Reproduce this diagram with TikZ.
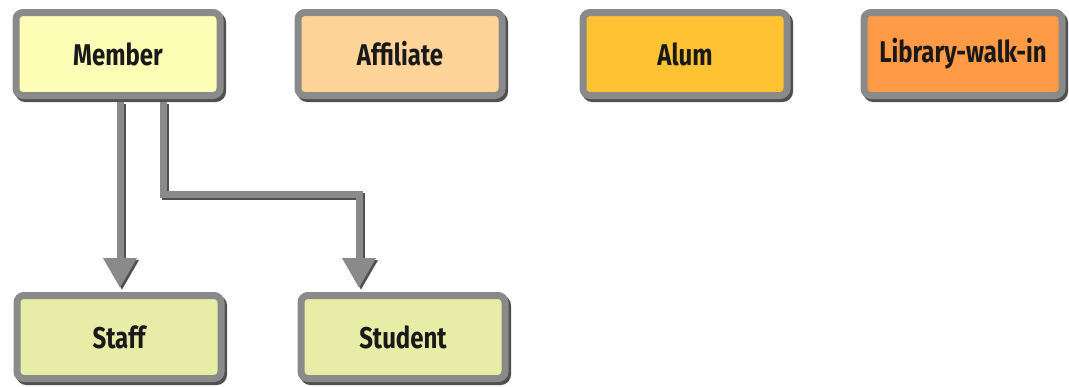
\documentclass[tikz,border=0pt]{standalone}
\usepackage{fontspec}
\setmainfont{Fira Sans}[FakeStretch=0.8]
\usetikzlibrary{arrows.meta,shadows,calc}
\definecolor{bordergray}{HTML}{8A8A8A}
\definecolor{shadowgray}{HTML}{505050}
\definecolor{cmember}{HTML}{FDFDB6}
\definecolor{caffil}{HTML}{FED499}
\definecolor{calum}{HTML}{FEC232}
\definecolor{clib}{HTML}{FF9A47}
\definecolor{cstaff}{HTML}{E7EDA6}
\tikzset{
  box/.style={rectangle, rounded corners=7pt, draw=bordergray, line width=7pt,
    minimum width=204pt, minimum height=83pt, inner sep=0pt,
    font=\fontsize{30}{33}\selectfont\bfseries, text=black!90,
    general shadow={shadow xshift=2.5pt, shadow yshift=-3pt, fill=shadowgray, draw=shadowgray, line width=7pt}},
  conn/.style={draw=bordergray, line width=7pt, line join=miter,
    -{Triangle[width=32pt,length=30pt]}},
  connshadow/.style={draw=shadowgray, line width=7pt, line join=miter,
    -{Triangle[width=32pt,length=30pt]}}
}
\begin{document}
\begin{tikzpicture}[x=1pt,y=1pt]
\useasboundingbox (0,0) rectangle (1069,-386);
\node[box, fill=cmember] (member) at (118,-54) {Member};
\node[box, fill=caffil] (affiliate) at (400,-54) {Affiliate};
\node[box, fill=calum] (alum) at (685,-54) {Alum};
\node[box, fill=clib, minimum width=198pt] (library) at (963,-54) {Library-walk-in};
\node[box, fill=cstaff] (staff) at (119,-337) {Staff};
\node[box, fill=cstaff] (student) at (403,-337) {Student};
% connector shadows
\begin{scope}[transform canvas={shift={(2pt,-2pt)}}]
\draw[connshadow] ([xshift=2pt,yshift=-3pt]member.south) -- ([xshift=2pt,yshift=4pt]member.south |- staff.north);
\draw[connshadow] ([xshift=45pt,yshift=-3pt]member.south) |- ($(member.south)!0.5!(student.north)+(0,1.5pt)$) -| ([xshift=-44pt,yshift=4pt]student.north);
\end{scope}
% connectors
\draw[conn] ([xshift=2pt,yshift=-3pt]member.south) -- ([xshift=2pt,yshift=4pt]member.south |- staff.north);
\draw[conn] ([xshift=45pt,yshift=-3pt]member.south) |- ($(member.south)!0.5!(student.north)+(0,1.5pt)$) -| ([xshift=-44pt,yshift=4pt]student.north);
\end{tikzpicture}
\end{document}
